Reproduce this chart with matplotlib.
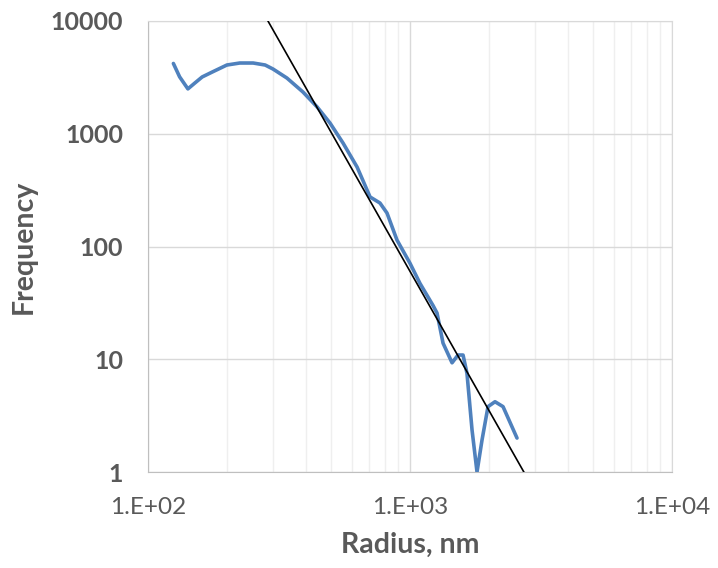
import matplotlib
matplotlib.use("Agg")
import matplotlib.pyplot as plt
from matplotlib.ticker import FixedLocator, NullFormatter, FixedFormatter

# size distribution
radius_nm = [125, 132, 142, 151, 161, 176, 200, 224, 252, 280, 300, 339, 390, 442,
             495, 555, 628, 704, 768, 817, 892, 1000, 1092, 1224, 1268, 1337, 1447,
             1525, 1594, 1650, 1725, 1802, 1883, 1985, 2111, 2265, 2561]
frequency = [4200, 3200, 2500, 2820, 3190, 3530, 4070, 4240, 4240, 4070, 3750, 3120,
             2350, 1730, 1245, 828, 507, 275, 243, 198, 114, 71, 47, 30, 25.7, 13.9,
             9.3, 10.9, 10.9, 7.5, 2.36, 1.0, 1.92, 3.8, 4.2, 3.8, 2.0]

# power-law trendline end points
fit_x = [287, 2720]
fit_y = [10000, 1]

x_ticks = [1e2, 1e3, 1e4]
x_labels = ["1.E+02", "1.E+03", "1.E+04"]
y_ticks = [1, 10, 100, 1000, 10000]
y_labels = ["1", "10", "100", "1000", "10000"]

TXT = "#595959"
plt.rcParams["font.family"] = ["Lato", "DejaVu Sans"]

fig = plt.figure(figsize=(7.18, 5.68), dpi=100)
ax = fig.add_axes([148 / 718, 1 - 472 / 568, 524 / 718, 451 / 568])

ax.plot(radius_nm, frequency, color="#4f81bd", lw=2.6, solid_capstyle="round",
        solid_joinstyle="round", zorder=3)
ax.plot(fit_x, fit_y, color="black", lw=1.2, zorder=4)

ax.set_xscale("log")
ax.set_yscale("log")
ax.set_xlim(1e2, 1e4)
ax.set_ylim(1, 1e4)

ax.xaxis.set_major_locator(FixedLocator(x_ticks))
ax.xaxis.set_major_formatter(FixedFormatter(x_labels))
minor_x = [m * d for d in (1e2, 1e3) for m in range(2, 10)]
ax.xaxis.set_minor_locator(FixedLocator(minor_x))
ax.xaxis.set_minor_formatter(NullFormatter())
ax.yaxis.set_major_locator(FixedLocator(y_ticks))
ax.yaxis.set_major_formatter(FixedFormatter(y_labels))
ax.yaxis.set_minor_locator(FixedLocator([]))

ax.grid(True, which="major", color="#d9d9d9", lw=1.0, zorder=0)
ax.grid(True, which="minor", axis="x", color="#efefef", lw=1.0, zorder=0)
ax.set_axisbelow(True)

ax.tick_params(which="both", length=0)
ax.tick_params(axis="x", pad=18, labelsize=17.5, labelcolor=TXT)
ax.tick_params(axis="y", pad=18, labelsize=18, labelcolor=TXT)
for lab in ax.get_yticklabels():
    lab.set_fontweight("bold")

for side in ["left", "bottom"]:
    ax.spines[side].set_color("#bfbfbf")
for side in ["top", "right"]:
    ax.spines[side].set_color("#d9d9d9")

ax.set_xlabel("Radius, nm", fontsize=20.5, fontweight="bold", color=TXT, labelpad=10)
ax.set_ylabel("Frequency", fontsize=20.5, fontweight="bold", color=TXT, labelpad=10)

fig.savefig("out.png", dpi=100)
